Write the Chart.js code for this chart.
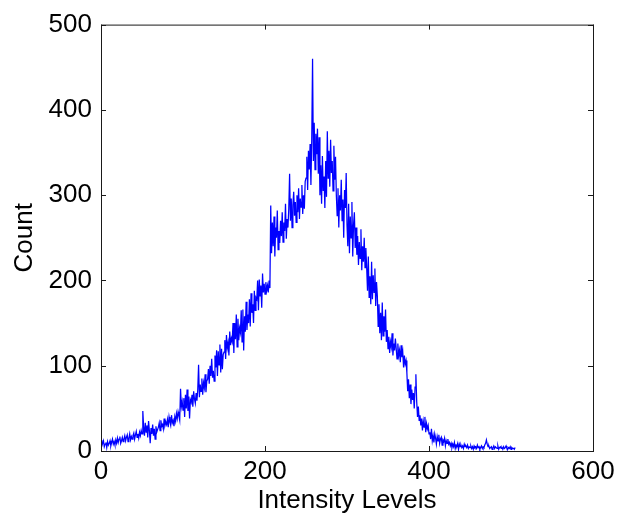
<!DOCTYPE html>
<html>
<head>
<meta charset="utf-8">
<script src="https://cdn.jsdelivr.net/npm/chart.js@4"></script>
<style>
  body { margin: 0; background: #fff; }
  #wrap { width: 624px; height: 516px; }
</style>
</head>
<body>
<div id="wrap"><canvas id="hist" width="624" height="516"></canvas></div>
<script>
// histogram counts, one per intensity level starting at 0
const counts = [
  13, 6, 9, 12, 5, 8, 10, 4, 11, 7,  9, 12, 6, 10, 14, 8, 11, 7, 13, 9,
  15, 10, 14, 17, 9, 12, 16, 11, 14, 18,  12, 16, 19, 11, 15, 20, 13, 17, 14, 18,
  21, 14, 19, 23, 16, 20, 15, 22, 18, 24,  20, 47, 28, 18, 33, 22, 30, 16, 35, 24,
  9, 27, 20, 31, 18, 26, 14, 29, 22, 25,  28, 33, 24, 36, 29, 31, 26, 38, 30, 34,
  31, 37, 28, 40, 34, 30, 42, 33, 36, 29,  40, 35, 44, 38, 46, 41, 36, 73, 52, 58,
  48, 62, 40, 66, 50, 72, 47, 64, 38, 60,  57, 66, 52, 70, 61, 56, 68, 59, 72, 101,
  63, 78, 70, 85, 66, 80, 74, 90, 69, 82,  84, 96, 79, 100, 88, 108, 86, 94, 82, 112,
  98, 118, 88, 117, 101, 125, 92, 120, 96, 113,  116, 130, 108, 136, 121, 127, 112, 140, 124, 132,
  128, 150, 115, 150, 131, 160, 122, 155, 130, 144,  139, 165, 128, 166, 118, 158, 140, 175, 142, 160,
  150, 178, 146, 185, 162, 172, 150, 188, 165, 180,  178, 200, 165, 201, 182, 194, 168, 208, 186, 196,
  184, 198, 188, 194, 186, 200, 191, 288, 232, 268,  240, 275, 228, 262, 250, 282, 236, 258, 244, 270,
  252, 280, 245, 268, 258, 290, 249, 272, 262, 284,  325, 270, 296, 262, 288, 304, 276, 292, 268, 300,
  280, 308, 272, 296, 286, 312, 278, 300, 284, 316,  320, 345, 306, 352, 330, 360, 312, 365,
  460,
  340, 385, 330, 372, 348, 378, 325, 368,
  300, 335, 290, 346, 305, 322, 285, 340, 298, 375,
  320, 352, 310, 365, 326, 340, 305, 358, 318, 345, 300,
  276, 308, 262, 300, 282, 318, 270, 295, 250, 306, 285, 326,
  265, 240, 290, 232, 275, 250, 292, 228, 266, 280, 238, 262,
  230, 252, 218, 245, 226, 260, 212, 240, 222, 250, 215, 238,
  215, 188, 228, 180, 205, 172, 222, 178, 206, 186, 214, 170, 198,
  182, 146, 172, 138, 162, 130, 174, 135, 158, 140, 166, 128,
  142, 120, 134, 115, 128, 122, 138, 112, 126, 118, 132,
  120, 108, 126, 112, 118, 104, 124, 110, 116, 98, 112, 102, 106,
  92, 70, 84, 62, 78, 55, 72, 60, 68, 50, 75, 90, 58, 40, 52, 36,
  42, 30, 38, 24, 35, 28, 40, 22, 32, 26, 30, 20,
  22, 14, 26, 12, 18, 10, 20, 15, 8, 17, 12, 19, 9, 14, 16, 7, 13, 11, 15, 6, 12, 9, 14, 8, 10,
  6, 9, 4, 8, 5, 10, 3, 7, 6, 9, 2, 8, 5, 7, 4, 6, 3, 8, 5, 6, 4, 7, 3, 5,
  4, 6, 3, 5, 2, 6, 4, 5, 3, 7, 4, 5, 2, 4, 6, 3, 5, 4, 7, 9,
  13, 8, 5, 6, 3, 4, 5, 2, 4, 6, 3, 5, 4, 3, 6, 2, 4, 5, 3, 4,
  2, 5, 3, 4, 6, 3, 2, 4, 3, 5, 2, 4, 3, 3, 2, 4
];
const xTickValues = [0, 200, 400, 600];
const yTickValues = [0, 100, 200, 300, 400, 500];
const xTitle = "Intensity Levels";
const yTitle = "Count";

let points = counts.map((c, i) => ({x: i, y: c}));

const font = {family: "'Liberation Sans', Arial, sans-serif", size: 26};

// matlab style box with inward ticks on all four sides
const boxPlugin = {
  id: "boxPlugin",
  afterDatasetsDraw(chart){
    const {ctx, chartArea: a, scales} = chart;
    ctx.save();
    ctx.strokeStyle = "#1a1a1a";
    ctx.lineWidth = 1;
    ctx.strokeRect(a.left + 0.5, a.top + 0.5, a.right - a.left, a.bottom - a.top);
    ctx.beginPath();
    xTickValues.forEach(v=>{
      let px = Math.round(scales.x.getPixelForValue(v)) + 0.5;
      ctx.moveTo(px, a.bottom); ctx.lineTo(px, a.bottom - 5);
      ctx.moveTo(px, a.top); ctx.lineTo(px, a.top + 5);
    });
    yTickValues.forEach(v=>{
      let py = Math.round(scales.y.getPixelForValue(v)) + 0.5;
      ctx.moveTo(a.left, py); ctx.lineTo(a.left + 5, py);
      ctx.moveTo(a.right, py); ctx.lineTo(a.right - 5, py);
    });
    ctx.stroke();
    ctx.restore();
  }
};

new Chart(document.getElementById("hist"), {
  type: "line",
  data: {
    datasets: [{
      data: points,
      borderColor: "#0000ff",
      borderWidth: 1.25,
      pointRadius: 0,
      tension: 0,
      fill: false
    }]
  },
  options: {
    responsive: false,
    animation: false,
    layout: {padding: {top: 16, right: 31, left: 0, bottom: 0}},
    plugins: {legend: {display: false}, tooltip: {enabled: false}},
    scales: {
      x: {
        type: "linear",
        min: 0, max: 600,
        afterBuildTicks: s => { s.ticks = xTickValues.map(v => ({value: v})); },
        afterFit: s => { s.height = 65; },
        grid: {display: false, drawTicks: false},
        border: {display: false},
        ticks: {color: "#000", font: font, padding: 5, maxRotation: 0},
        title: {display: true, text: xTitle, color: "#000", font: font, padding: {top: 0, bottom: 0}}
      },
      y: {
        min: 0, max: 500,
        afterBuildTicks: s => { s.ticks = yTickValues.map(v => ({value: v})); },
        afterFit: s => { s.width = 101; },
        grid: {display: false, drawTicks: false},
        border: {display: false},
        ticks: {color: "#000", font: font, padding: 9},
        title: {display: true, text: yTitle, color: "#000", font: font, padding: {top: 9, bottom: 0}}
      }
    }
  },
  plugins: [boxPlugin]
});
</script>
</body>
</html>
